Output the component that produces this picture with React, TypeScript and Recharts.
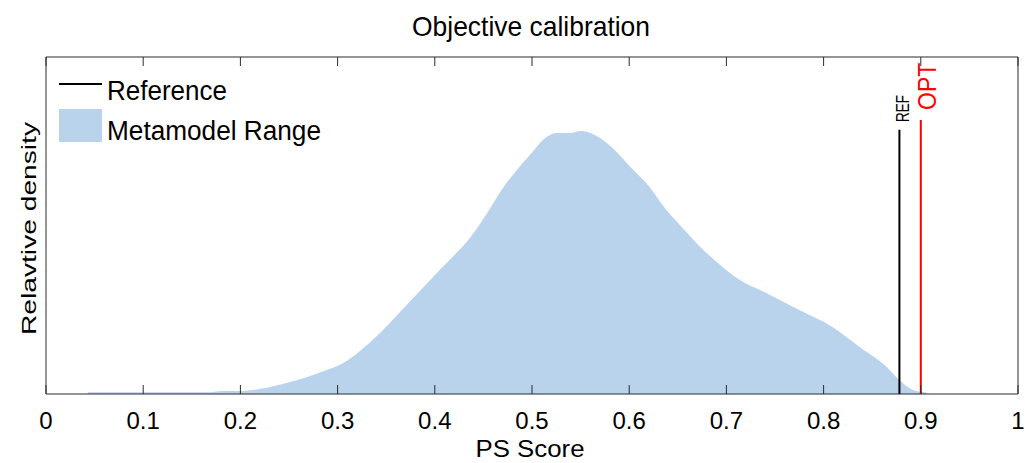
import React from 'react';
import {
  ComposedChart,
  Area,
  XAxis,
  YAxis,
  ReferenceLine,
  Legend,
} from 'recharts';

// ---- data -------------------------------------------------------------
const TITLE = 'Objective calibration';
const X_LABEL = 'PS Score';
const Y_LABEL = 'Relavtive density';
const X_TICKS = [0, 0.1, 0.2, 0.3, 0.4, 0.5, 0.6, 0.7, 0.8, 0.9, 1];
const X_TICK_LABELS = ['0', '0.1', '0.2', '0.3', '0.4', '0.5', '0.6', '0.7', '0.8', '0.9', '1'];

const SCORES = [
  0.043, 0.1, 0.17, 0.18, 0.2, 0.22, 0.254, 0.279, 0.29, 0.302, 0.336, 0.371, 0.405,
  0.44, 0.456, 0.47, 0.482, 0.498, 0.515, 0.525, 0.539, 0.551, 0.57, 0.587, 0.604,
  0.621, 0.638, 0.655, 0.669, 0.69, 0.714, 0.741, 0.775, 0.809, 0.837, 0.865, 0.878,
  0.892, 0.906,
];
const DENSITY = [
  0.007, 0.007, 0.007, 0.011, 0.011, 0.019, 0.048, 0.078, 0.093, 0.11, 0.205, 0.338, 0.471,
  0.612, 0.7, 0.783, 0.84, 0.909, 0.977, 0.992, 0.992, 1.0, 0.973, 0.92, 0.852,
  0.787, 0.7, 0.631, 0.574, 0.502, 0.433, 0.384, 0.319, 0.255, 0.179, 0.103, 0.053,
  0.015, 0.006,
];
const Y_MAX = 1.281;

const REF_SCORE = 0.878;
const REF_TOP = 1.004;
const OPT_SCORE = 0.9;
const OPT_TOP = 1.042;

const LEGEND_NAMES = ['Reference', 'Metamodel Range'];

// ---- styles -----------------------------------------------------------
const FONT = '"Liberation Sans", Arial, Helvetica, sans-serif';
const AXIS_COLOR = '#2b2b2b';
const FILL = '#bad3ed';

const data = SCORES.map((s, i) => ({ score: s, density: DENSITY[i] }));

const BottomTick = (props: any) => {
  const { x, y, payload, index } = props;
  return (
    <g>
      <line x1={x} y1={y} x2={x} y2={y - 9} stroke={AXIS_COLOR} strokeWidth={1} />
      <text x={x} y={y + 35} textAnchor="middle" fontFamily={FONT} fontSize={24} fill="#000">
        {X_TICK_LABELS[index] ?? String(payload.value)}
      </text>
    </g>
  );
};

const TopTick = (props: any) => {
  const { x, y } = props;
  return <line x1={x} y1={y} x2={x} y2={y + 9} stroke={AXIS_COLOR} strokeWidth={1} />;
};

const renderLegend = () => (
  <svg width={300} height={90} style={{ overflow: 'visible' }}>
    <line x1={0} y1={8} x2={43} y2={8} stroke="#000" strokeWidth={2} />
    <text x={48} y={24} fontFamily={FONT} fontSize={27} textLength={120} lengthAdjust="spacingAndGlyphs" fill="#000">
      {LEGEND_NAMES[0]}
    </text>
    <rect x={0} y={33} width={43} height={33} fill={FILL} />
    <text x={48} y={64} fontFamily={FONT} fontSize={27} textLength={214} lengthAdjust="spacingAndGlyphs" fill="#000">
      {LEGEND_NAMES[1]}
    </text>
  </svg>
);

export default function App() {
  return (
    <div style={{ position: 'absolute', left: 0, top: 0, width: 1027, height: 463, background: '#fff' }}>
      <ComposedChart
        width={1027}
        height={463}
        data={data}
        margin={{ top: 27, right: 8, bottom: 39, left: 36 }}
      >
        <XAxis
          xAxisId="b"
          dataKey="score"
          type="number"
          domain={[0, 1]}
          ticks={X_TICKS}
          interval={0}
          height={30}
          tickSize={0}
          tickMargin={0}
          tickLine={false}
          axisLine={{ stroke: AXIS_COLOR, strokeWidth: 1 }}
          tick={<BottomTick />}
          label={{
            content: (p: any) => {
              const vb = p.viewBox;
              return (
                <text
                  x={vb.x + vb.width / 2 - 2}
                  y={vb.y + 63}
                  textAnchor="middle"
                  fontFamily={FONT}
                  fontSize={23}
                  textLength={109}
                  lengthAdjust="spacingAndGlyphs"
                  fill="#000"
                >
                  {X_LABEL}
                </text>
              );
            },
          }}
        />
        <XAxis
          xAxisId="t"
          orientation="top"
          dataKey="score"
          type="number"
          domain={[0, 1]}
          ticks={X_TICKS}
          interval={0}
          height={30}
          tickSize={0}
          tickMargin={0}
          tickLine={false}
          axisLine={{ stroke: AXIS_COLOR, strokeWidth: 1 }}
          tick={<TopTick />}
          label={{
            content: (p: any) => {
              const vb = p.viewBox;
              return (
                <text
                  x={vb.x + vb.width / 2 - 1}
                  y={vb.y + vb.height - 21}
                  textAnchor="middle"
                  fontFamily={FONT}
                  fontSize={28}
                  textLength={238}
                  lengthAdjust="spacingAndGlyphs"
                  fill="#000"
                >
                  {TITLE}
                </text>
              );
            },
          }}
        />
        <YAxis
          yAxisId="l"
          type="number"
          domain={[0, Y_MAX]}
          width={10}
          tick={false}
          tickLine={false}
          axisLine={{ stroke: AXIS_COLOR, strokeWidth: 1 }}
          label={{
            content: (p: any) => {
              const vb = p.viewBox;
              const cx = vb.x + vb.width - 10;
              const cy = vb.y + vb.height / 2 + 3;
              return (
                <text
                  x={cx}
                  y={cy}
                  transform={`rotate(-90 ${cx} ${cy})`}
                  textAnchor="middle"
                  fontFamily={FONT}
                  fontSize={21}
                  textLength={213}
                  lengthAdjust="spacingAndGlyphs"
                  fill="#000"
                >
                  {Y_LABEL}
                </text>
              );
            },
          }}
        />
        <YAxis
          yAxisId="r"
          orientation="right"
          type="number"
          domain={[0, Y_MAX]}
          width={1}
          tick={false}
          tickLine={false}
          axisLine={{ stroke: AXIS_COLOR, strokeWidth: 1 }}
        />
        <Legend
          layout="vertical"
          align="center"
          verticalAlign="middle"
          content={renderLegend}
          wrapperStyle={{ position: 'absolute', left: 59, top: 76, width: 300, height: 90 }}
        />
        <Area
          xAxisId="b"
          yAxisId="l"
          dataKey="density"
          name={LEGEND_NAMES[1]}
          type="monotone"
          fill={FILL}
          fillOpacity={1}
          stroke="none"
          isAnimationActive={false}
        />
        <ReferenceLine
          xAxisId="b"
          yAxisId="l"
          segment={[
            { x: REF_SCORE, y: 0 },
            { x: REF_SCORE, y: REF_TOP },
          ]}
          stroke="#000"
          strokeWidth={2}
          label={{
            content: (p: any) => {
              const vb = p.viewBox;
              const lx = vb.x + 10;
              const ly = vb.y - 8;
              return (
                <text
                  x={lx}
                  y={ly}
                  transform={`rotate(-90 ${lx} ${ly})`}
                  fontFamily={FONT}
                  fontSize={19}
                  textLength={27}
                  lengthAdjust="spacingAndGlyphs"
                  fill="#000"
                >
                  REF
                </text>
              );
            },
          }}
        />
        <ReferenceLine
          xAxisId="b"
          yAxisId="l"
          segment={[
            { x: OPT_SCORE, y: 0 },
            { x: OPT_SCORE, y: OPT_TOP },
          ]}
          stroke="#ff0000"
          strokeWidth={2}
          label={{
            content: (p: any) => {
              const vb = p.viewBox;
              const lx = vb.x + 15;
              const ly = vb.y - 10;
              return (
                <text
                  x={lx}
                  y={ly}
                  transform={`rotate(-90 ${lx} ${ly})`}
                  fontFamily={FONT}
                  fontSize={25}
                  textLength={47}
                  lengthAdjust="spacingAndGlyphs"
                  fill="#ff0000"
                >
                  OPT
                </text>
              );
            },
          }}
        />
      </ComposedChart>
    </div>
  );
}
